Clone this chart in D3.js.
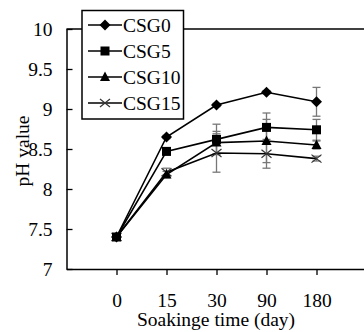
<!DOCTYPE html>
<html><head><meta charset="utf-8">
<script src="https://cdn.jsdelivr.net/npm/d3@7"></script>
<style>body{margin:0;background:#fff}svg{display:block}</style>
</head><body>
<svg id="c" width="364" height="332"></svg>
<script>
const categories = ["0", "15", "30", "90", "180"];
const seriesNames = ["CSG0", "CSG5", "CSG10", "CSG15"];
const csg0 = [7.40, 8.65, 9.05, 9.21, 9.09];
const csg5 = [7.40, 8.47, 8.62, 8.77, 8.74];
const csg10 = [7.40, 8.18, 8.58, 8.60, 8.55];
const csg15 = [7.40, 8.21, 8.45, 8.44, 8.38];
const err0 = [0, 0.02, 0.02, 0.02, 0.18];
const err5 = [0, 0.04, 0.19, 0.18, 0.13];
const err10 = [0, 0.04, 0.14, 0.27, 0.05];
const err15 = [0, 0.05, 0.24, 0.18, 0.03];
const yTicks = [7, 7.5, 8, 8.5, 9, 9.5, 10];
const markers = ["diamond", "square", "triangle", "cross"];

const values = [csg0, csg5, csg10, csg15];
const errs = [err0, err5, err10, err15];
const font = "'Liberation Serif','Times New Roman',serif";
const fs = 19.5;
const svg = d3.select("#c");
const x = d3.scalePoint().domain(categories).range([66.5, 366.5]).padding(1);
const y = d3.scaleLinear().domain([7, 10]).range([269, 29]);

svg.append("line").attr("x1", 66.5).attr("x2", 364).attr("y1", y(10)).attr("y2", y(10))
  .attr("stroke", "#000").attr("stroke-width", 1.5);

const yAxis = svg.append("g").attr("transform", "translate(66.5,0)")
  .call(d3.axisLeft(y).tickValues(yTicks).tickSize(-6).tickSizeOuter(0).tickPadding(14)
    .tickFormat(d => d3.format("~g")(d)));
const xAxis = svg.append("g").attr("transform", "translate(0,269)")
  .call(d3.axisBottom(x).tickSize(6).tickSizeOuter(0));
[yAxis, xAxis].forEach(g => {
  g.select(".domain").attr("stroke", "#000").attr("stroke-width", 1.5);
  g.selectAll(".tick line").attr("stroke", "#000").attr("stroke-width", 1.3);
  g.selectAll("text").attr("font-family", font).attr("font-size", fs).attr("fill", "#000");
});
yAxis.selectAll("text").attr("dy", "0.34em");
xAxis.selectAll("text").attr("y", 37.5).attr("dy", 0);

svg.append("text").attr("x", 216).attr("y", 326).attr("text-anchor", "middle")
  .attr("font-family", font).attr("font-size", fs).text("Soakinge time (day)");
svg.append("text").attr("transform", "translate(29,151) rotate(-90)").attr("text-anchor", "middle")
  .attr("font-family", font).attr("font-size", fs).text("pH value");

function drawMarker(g, type, cx, cy) {
  if (type === "diamond") {
    g.append("path").attr("d", `M${cx},${cy-5.5}L${cx+5.5},${cy}L${cx},${cy+5.5}L${cx-5.5},${cy}Z`).attr("fill", "#000");
  } else if (type === "square") {
    g.append("rect").attr("x", cx-4.5).attr("y", cy-4.5).attr("width", 9).attr("height", 9).attr("fill", "#000");
  } else if (type === "triangle") {
    g.append("path").attr("d", `M${cx},${cy-5.5}L${cx+5},${cy+4}L${cx-5},${cy+4}Z`).attr("fill", "#000");
  } else {
    g.append("path").attr("d", `M${cx-5},${cy-4}L${cx+5},${cy+4}M${cx-5},${cy+4}L${cx+5},${cy-4}`)
      .attr("stroke", "#333").attr("stroke-width", 1.2).attr("fill", "none");
  }
}

const eg = svg.append("g");
values.forEach((vals, s) => {
  vals.forEach((v, i) => {
    const e = errs[s][i];
    if (e <= 0) return;
    const cx = x(categories[i]);
    eg.append("line").attr("x1", cx).attr("x2", cx).attr("y1", y(v - e)).attr("y2", y(v + e))
      .attr("stroke", "#777").attr("stroke-width", 1.3);
    [v - e, v + e].forEach(t => eg.append("line").attr("x1", cx - 4).attr("x2", cx + 4)
      .attr("y1", y(t)).attr("y2", y(t)).attr("stroke", "#777").attr("stroke-width", 1.3));
  });
});

const line = d3.line().x((d, i) => x(categories[i])).y(d => y(d));
const order = [3, 2, 0, 1];
order.forEach(s => {
  const g = svg.append("g");
  g.append("path").attr("d", line(values[s])).attr("fill", "none").attr("stroke", "#000").attr("stroke-width", 1.6);
  values[s].forEach((v, i) => drawMarker(g, markers[s], x(categories[i]), y(v)));
});

const lg = svg.append("g");
lg.append("rect").attr("x", 82).attr("y", 10.5).attr("width", 101.5).attr("height", 108.5)
  .attr("fill", "#fff").attr("stroke", "#000").attr("stroke-width", 1.5);
seriesNames.forEach((n, i) => {
  const cy = 25 + i * 26;
  lg.append("line").attr("x1", 88).attr("x2", 122).attr("y1", cy).attr("y2", cy).attr("stroke", "#000").attr("stroke-width", 1.5);
  drawMarker(lg, markers[i], 105, cy);
  lg.append("text").attr("x", 123).attr("y", cy).attr("dy", "0.34em")
    .attr("font-family", font).attr("font-size", fs).text(n);
});
</script>
</body></html>
